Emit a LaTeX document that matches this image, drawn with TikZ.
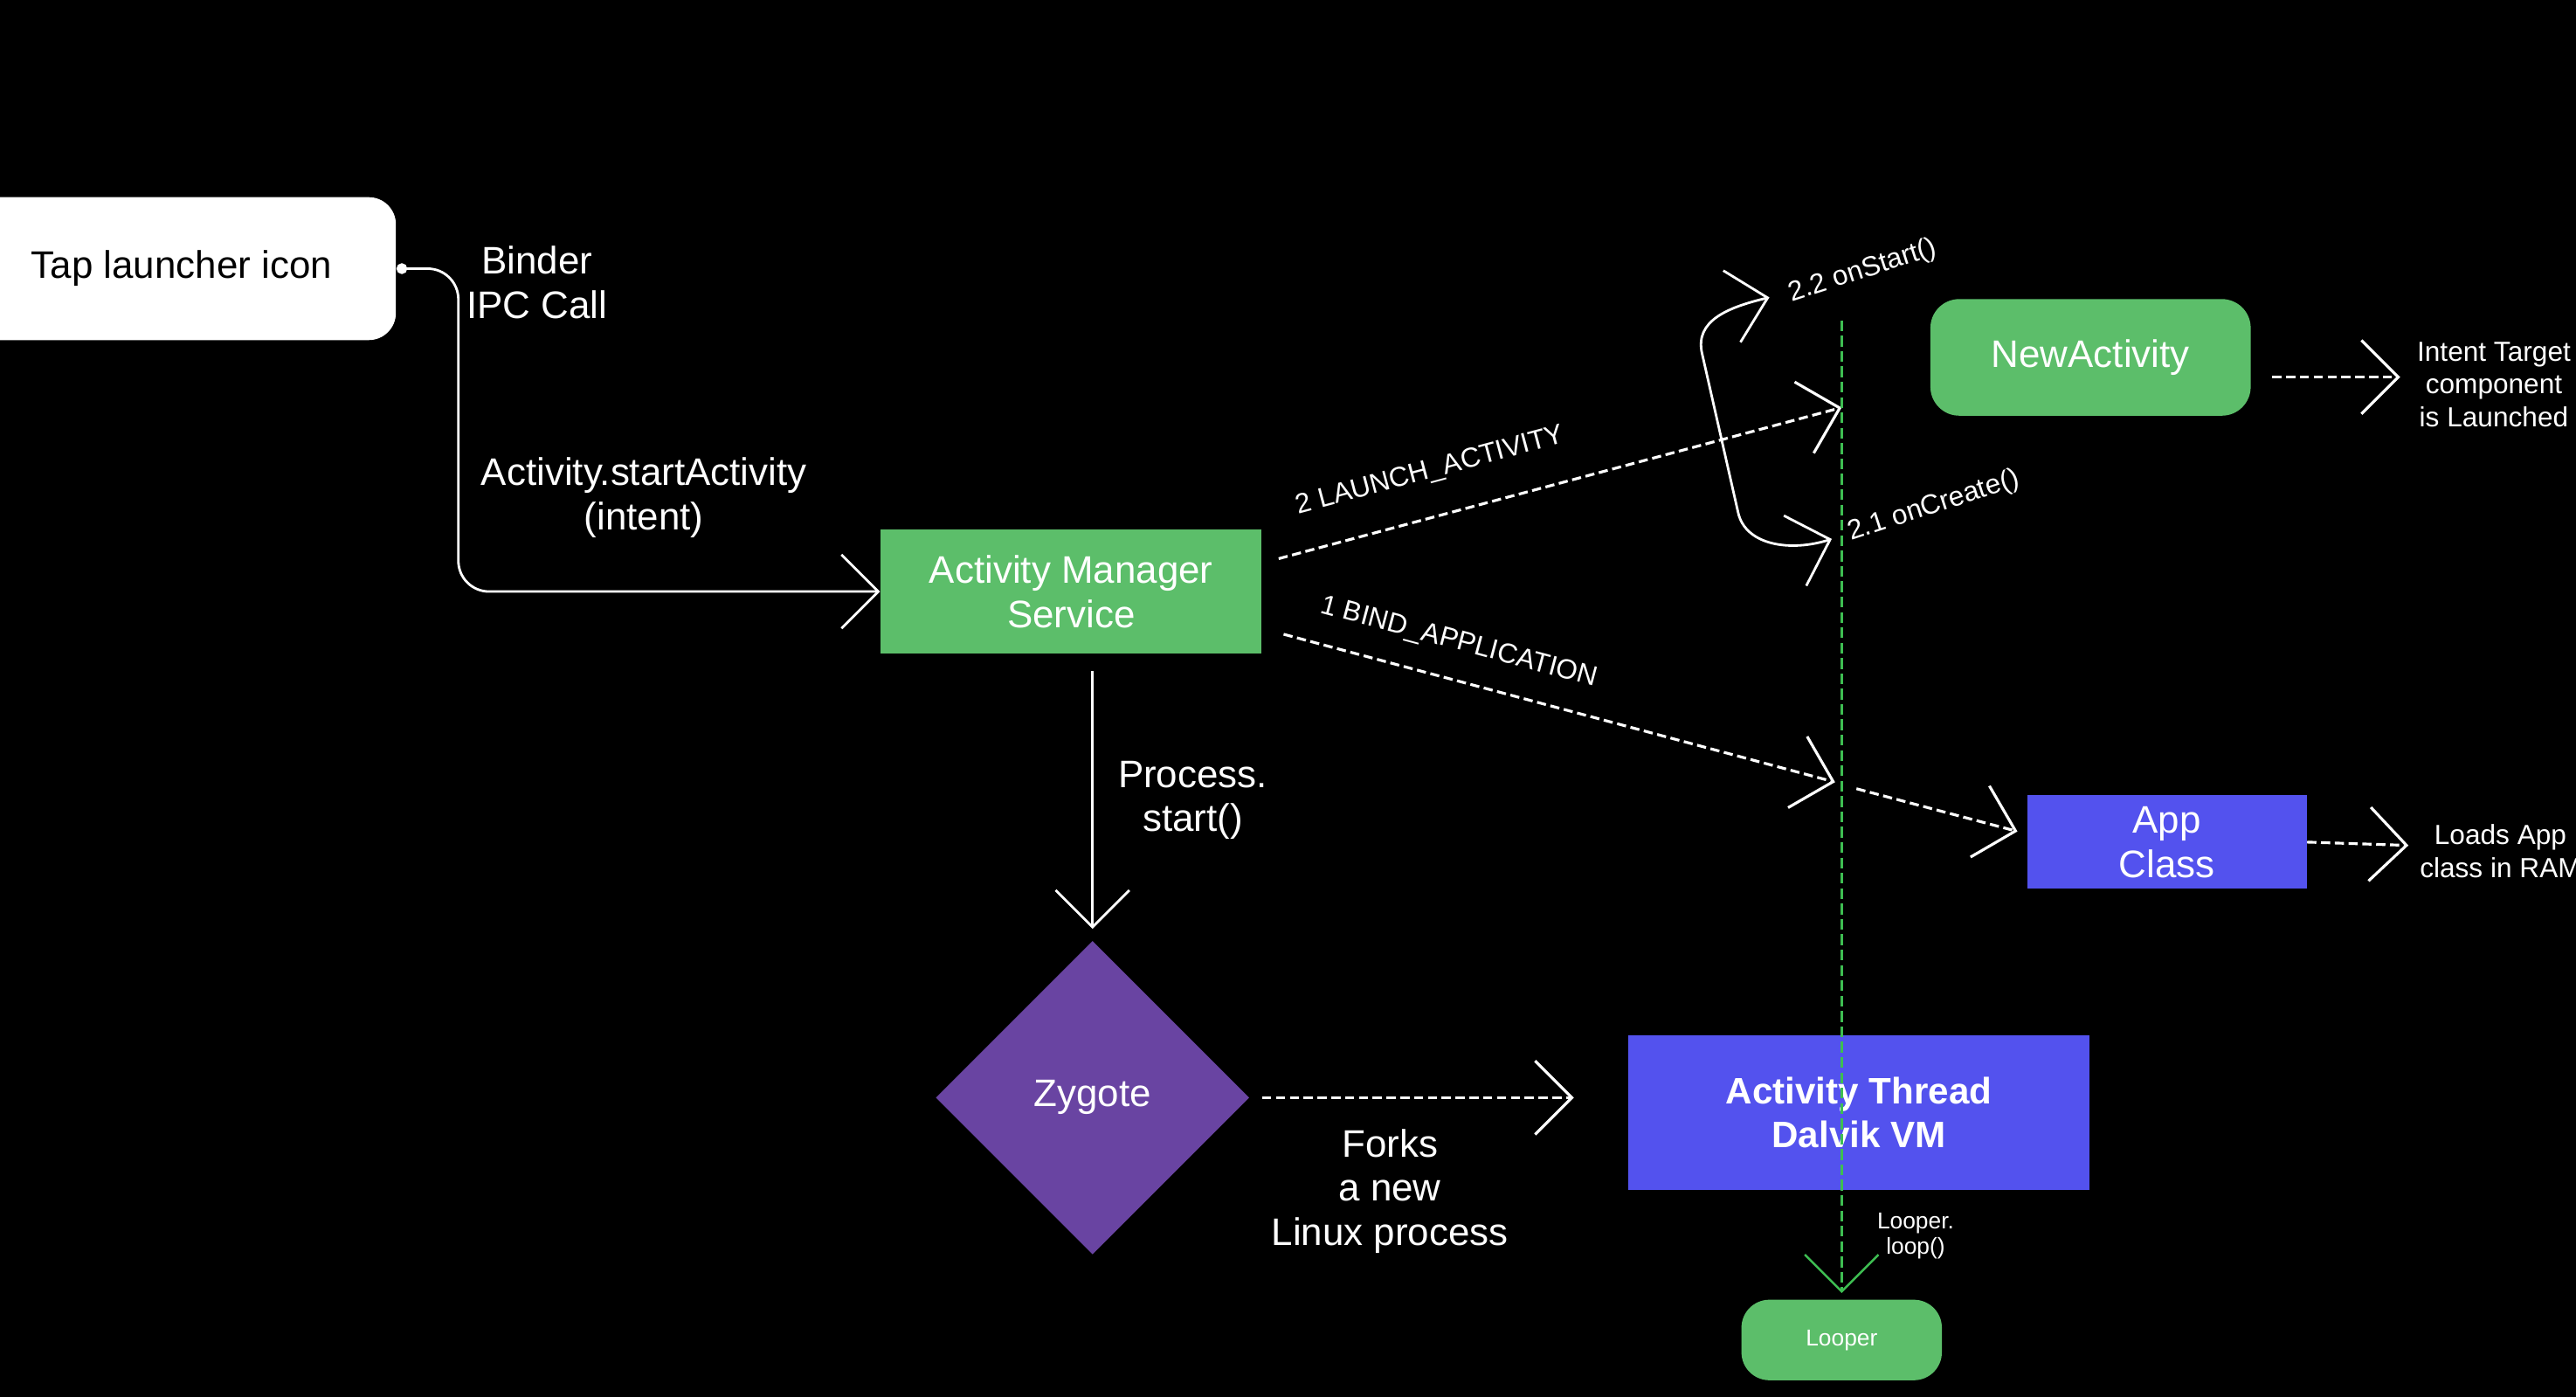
\documentclass[tikz,border=0pt]{standalone}
\usepackage{fontspec}
\setmainfont{Liberation Sans}
\usepackage{xcolor}
\usetikzlibrary{arrows.meta, shapes.geometric}

\definecolor{boxgreen}{RGB}{92,190,106}
\definecolor{zygpurple}{RGB}{105,68,162}
\definecolor{vmblue}{RGB}{83,82,238}
\definecolor{linegreen}{RGB}{62,190,82}

\begin{document}
\begin{tikzpicture}[
        x = 0.018808cm,
        y = -0.018808cm,
        >={Straight Barb[length=12pt, width=24pt]},
        every node/.style = {text=white, align=center},
        big/.style = {font=\fontsize{12.5}{14.4}\selectfont},
        small/.style = {font=\fontsize{9}{10.7}\selectfont},
        tiny/.style = {font=\fontsize{7.5}{8.2}\selectfont},
        box/.style = {rectangle, inner sep=2pt},
        flow/.style = {draw=white, line width=0.8pt, ->},
        dflow/.style = {flow, line width=0.9pt, dash pattern=on 3pt off 1.5pt},
        lifeline/.style = {draw=linegreen, line width=0.7pt, dash pattern=on 3.5pt off 1.5pt}]

        % background
        \useasboundingbox (0,0) rectangle (1568,850);
        \fill[black] (0,0) rectangle (1568,850);

        % NODES
        % boxes
        \node[box, fill=white, text=black, rounded corners=0.31cm, minimum width=4.909cm, minimum height=1.636cm, big] (tap) at (110.5,163.5) {Tap launcher icon};
        \node[box, fill=boxgreen, minimum width=4.363cm, minimum height=1.429cm, big] (ams) at (652,360) {Activity Manager\\Service};
        \node[diamond, fill=zygpurple, minimum width=3.592cm, minimum height=3.592cm, inner sep=0pt, big] (zygote) at (665,668) {Zygote};
        \node[box, fill=vmblue, minimum width=5.285cm, minimum height=1.768cm, font=\fontsize{12}{14.4}\selectfont\bfseries] (vm) at (1131.5,677) {Activity Thread\\Dalvik VM};
        \node[box, fill=boxgreen, rounded corners=0.32cm, minimum width=2.295cm, minimum height=0.922cm, tiny] (looper) at (1121,815.5) {Looper};
        \node[box, fill=boxgreen, rounded corners=0.33cm, minimum width=3.668cm, minimum height=1.335cm, big] (newact) at (1272.5,217.5) {NewActivity};
        \node[box, fill=vmblue, minimum width=3.197cm, minimum height=1.072cm, big] (app) at (1319,512.5) {App\\Class};

        % labels
        \node[big] (binder) at (327,172) {Binder\\IPC Call};
        \node[big] (startact) at (392,303) {Activity.startActivity\\(intent)};
        \node[big] (procstart) at (726,487) {Process.\\start()};
        \node[big] (forks) at (846,725) {Forks\\a new\\Linux process};
        \node[small, rotate=18] (onstartlbl) at (1134,165) {2.2 onStart()};
        \node[small, rotate=18] (oncreatelbl) at (1177,308) {2.1 onCreate()};
        \node[small] (intentlbl) at (1518,234) {Intent Target\\component\\is Launched};
        \node[small] (loadslbl) at (1522,518) {Loads App\\class in RAM};
        \node[tiny] (looplbl) at (1166,752) {Looper.\\loop()};

        % anchors
        \coordinate (bend) at (279,260);
        \coordinate (forktip) at (958,668);
        \coordinate (launchtip) at (1121,248);
        \coordinate (bindtip) at (1117,476);
        \coordinate (bindmid) at (1130,480);
        \coordinate (apptip) at (1228,506);
        \coordinate (onstart) at (1077,181);
        \coordinate (oncreate) at (1115,328);
        \coordinate (lifetop) at (1121,195);
        \coordinate (intenttip) at (1461,229.5);
        \coordinate (loadstip) at (1466,514.5);

        % ARROWS
        \draw[flow, {Circle[length=3.5pt]}->, rounded corners=10pt] (tap.east) -| (bend) |- (ams.west);
        \draw[flow, shorten <=0.19cm, shorten >=0.13cm] (ams.south -| zygote.north) -- (zygote.north);
        \draw[dflow, shorten <=0.14cm] (zygote.east) -- (forktip);
        \draw[dflow] ([shift={(10,-20)}]ams.east) -- node[small, sloped, above=0.24cm, pos=0.29] {2 LAUNCH\_ACTIVITY} (launchtip);
        \draw[dflow] ([shift={(13,26)}]ams.east) -- node[small, sloped, above=0.15cm, pos=0.30] {1 BIND\_APPLICATION} (bindtip);
        \draw[dflow] (bindmid) -- (apptip);
        \draw[flow, <->] (onstart) .. controls (1052,187) and (1031.5,195) .. (1036,215) -- (1058,312) .. controls (1062.5,332) and (1090,336) .. (oncreate);
        \draw[lifeline, ->, shorten >=0.07cm] (lifetop) -- (looper.north);
        \draw[dflow, shorten <=0.24cm] (newact.east |- intenttip) -- (intenttip);
        \draw[dflow] (app.east) -- (loadstip);
\end{tikzpicture}
\end{document}
